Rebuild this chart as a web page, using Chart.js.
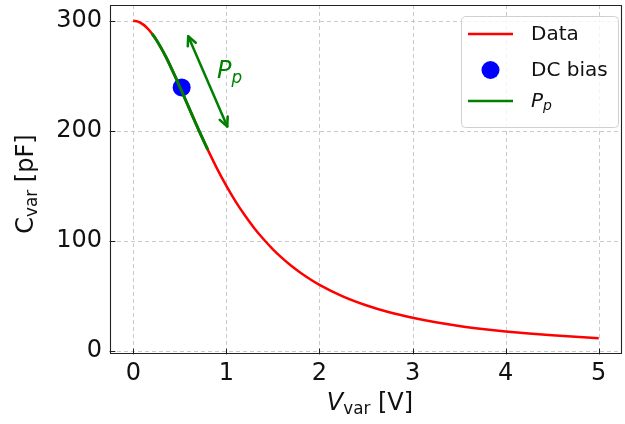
<!DOCTYPE html>
<html><head><meta charset="utf-8">
<script src="https://cdn.jsdelivr.net/npm/chart.js@4.4.0/dist/chart.umd.min.js"></script>
<style>html,body{margin:0;padding:0;background:#fff}</style>
</head><body>
<canvas id="c" width="625" height="424"></canvas>
<script>
// Data
const voltage = [0,0.05,0.1,0.15,0.2,0.25,0.3,0.35,0.4,0.45,0.5,0.6,0.7,0.8,0.9,1.0,1.1,1.2,1.3,1.4,1.5,1.6,1.7,1.8,1.9,2.0,2.25,2.5,2.75,3.0,3.25,3.5,3.75,4.0,4.25,4.5,4.75,5.0];
const capacitance = [300,299.3,297,293.4,288.5,282.4,275.2,267.3,258.6,249.4,240,220.6,201.3,182.9,165.7,150,135.7,123,111.5,101.4,92.3,84.3,77.1,70.8,65.1,60,49.5,41.4,35,30,25.9,22.6,19.9,17.6,15.7,14.1,12.7,11.5];
const ppVoltage = [0.2,0.25,0.3,0.35,0.4,0.45,0.5,0.6,0.7,0.8];
const ppCapacitance = [288.5,282.4,275.2,267.3,258.6,249.4,240,220.6,201.3,182.9];
const dcBiasV = [0.52];
const dcBiasC = [239.5];
const arrowStart = [0.59, 286];
const arrowEnd = [1.01, 204];
const ppLabelPos = [0.9, 248];
const xTicks = [0,1,2,3,4,5];
const yTicks = [0,100,200,300];
const legendLabels = ['Data','DC bias','P_p'];

const FONT = 'DejaVu Sans';
const toXY = (xs, ys) => xs.map((x,i)=>({x, y: ys[i]}));

function drawRich(ctx, segs, x, y, size, align) {
  const sizes = segs.map(s => s.sub ? size*0.7 : size);
  let total = 0;
  segs.forEach((s,i)=>{ ctx.font = (s.it?'italic ':'') + sizes[i] + 'px "' + FONT + '"'; total += ctx.measureText(s.t).width; });
  let cx = align === 'center' ? x - total/2 : x;
  segs.forEach((s,i)=>{
    ctx.font = (s.it?'italic ':'') + sizes[i] + 'px "' + FONT + '"';
    ctx.textAlign = 'left';
    ctx.fillText(s.t, cx, y + (s.sub ? size*0.22 : 0));
    cx += ctx.measureText(s.t).width;
  });
}

const noPad = s => { s.paddingTop = 0; s.paddingBottom = 0; s.paddingLeft = 0; s.paddingRight = 0; };

const custom = {
  id: 'custom',
  beforeDatasetsDraw(chart) {
    const {ctx, chartArea: a, scales: {x, y}} = chart;
    ctx.save();
    ctx.strokeStyle = 'rgba(176,176,176,0.75)';
    ctx.lineWidth = 0.9;
    ctx.setLineDash([4,3]);
    xTicks.forEach(v => { const px = Math.round(x.getPixelForValue(v))+0.5; ctx.beginPath(); ctx.moveTo(px,a.top); ctx.lineTo(px,a.bottom); ctx.stroke(); });
    yTicks.forEach(v => { const py = Math.round(y.getPixelForValue(v))+0.5; ctx.beginPath(); ctx.moveTo(a.left,py); ctx.lineTo(a.right,py); ctx.stroke(); });
    ctx.restore();
  },
  afterDatasetsDraw(chart) {
    const {ctx, chartArea: a, scales: {x, y}} = chart;
    ctx.save();
    const x1 = x.getPixelForValue(arrowStart[0]), y1 = y.getPixelForValue(arrowStart[1]);
    const x2 = x.getPixelForValue(arrowEnd[0]), y2 = y.getPixelForValue(arrowEnd[1]);
    ctx.strokeStyle = 'green'; ctx.lineWidth = 2.5; ctx.lineCap = 'round'; ctx.lineJoin='round';
    ctx.beginPath(); ctx.moveTo(x1,y1); ctx.lineTo(x2,y2); ctx.stroke();
    const ang = Math.atan2(y2-y1, x2-x1), hl = 10, ha = 0.45;
    [[x2,y2,ang],[x1,y1,ang+Math.PI]].forEach(([px,py,an])=>{
      ctx.beginPath();
      ctx.moveTo(px - hl*Math.cos(an-ha), py - hl*Math.sin(an-ha));
      ctx.lineTo(px, py);
      ctx.lineTo(px - hl*Math.cos(an+ha), py - hl*Math.sin(an+ha));
      ctx.stroke();
    });
    ctx.fillStyle = 'green';
    ctx.textBaseline = 'alphabetic';
    drawRich(ctx, [{t:'P',it:true},{t:'p',it:true,sub:true}], x.getPixelForValue(ppLabelPos[0]), y.getPixelForValue(ppLabelPos[1]), 24, 'left');

    ctx.setLineDash([]);
    ctx.strokeStyle = '#222'; ctx.lineWidth = 1.1;
    ctx.strokeRect(a.left+0.5, a.top+0.5, a.right-a.left-1, a.bottom-a.top-1);
    ctx.strokeStyle = '#222'; ctx.lineWidth = 1;
    xTicks.forEach(v => { const px = Math.round(x.getPixelForValue(v))+0.5; ctx.beginPath(); ctx.moveTo(px,a.bottom); ctx.lineTo(px,a.bottom-5); ctx.stroke(); });
    yTicks.forEach(v => { const py = Math.round(y.getPixelForValue(v))+0.5; ctx.beginPath(); ctx.moveTo(a.left,py); ctx.lineTo(a.left+5,py); ctx.stroke(); });

    ctx.fillStyle = '#111';
    ctx.font = '24px "' + FONT + '"';
    ctx.textAlign = 'center'; ctx.textBaseline = 'middle';
    xTicks.forEach(v => ctx.fillText(String(v), x.getPixelForValue(v), a.bottom + 20));

    ctx.textBaseline = 'middle';
    drawRich(ctx, [{t:'V',it:true},{t:'var',sub:true},{t:' [V]'}], 370, 404, 24, 'center');
    ctx.save();
    ctx.translate(27, 184);
    ctx.rotate(-Math.PI/2);
    drawRich(ctx, [{t:'C'},{t:'var',sub:true},{t:' [pF]'}], 0, 0, 24, 'center');
    ctx.restore();

    const lx = 461, ly = 16, lw = 157, lh = 111;
    ctx.fillStyle = 'rgba(255,255,255,0.8)';
    ctx.strokeStyle = '#d0d0d0'; ctx.lineWidth = 1;
    ctx.beginPath(); ctx.roundRect(lx+0.5, ly+0.5, lw, lh, 4); ctx.fill(); ctx.stroke();
    const rows = [34, 70, 101];
    ctx.lineWidth = 2.5; ctx.lineCap = 'butt';
    ctx.strokeStyle = 'red'; ctx.beginPath(); ctx.moveTo(468, rows[0]); ctx.lineTo(513, rows[0]); ctx.stroke();
    ctx.fillStyle = 'blue'; ctx.beginPath(); ctx.arc(490.5, rows[1], 9, 0, Math.PI*2); ctx.fill();
    ctx.strokeStyle = 'green'; ctx.beginPath(); ctx.moveTo(468, rows[2]); ctx.lineTo(513, rows[2]); ctx.stroke();
    ctx.fillStyle = '#111';
    ctx.textBaseline = 'middle';
    drawRich(ctx, [{t:legendLabels[0]}], 531, rows[0]+1, 20, 'left');
    drawRich(ctx, [{t:legendLabels[1]}], 531, rows[1]+1, 20, 'left');
    drawRich(ctx, [{t:'P',it:true},{t:'p',it:true,sub:true}], 531, rows[2]+1, 20, 'left');
    ctx.restore();
  }
};

new Chart(document.getElementById('c'), {
  type: 'line',
  data: {
    datasets: [
      { label: 'P_p', data: toXY(ppVoltage, ppCapacitance), borderColor: 'green', borderWidth: 3, pointRadius: 0, cubicInterpolationMode: 'monotone', order: 0 },
      { label: 'DC bias', data: toXY(dcBiasV, dcBiasC), showLine: false, pointRadius: 9, pointBackgroundColor: 'blue', pointBorderColor: 'blue', pointBorderWidth: 0, order: 1 },
      { label: 'Data', data: toXY(voltage, capacitance), borderColor: 'red', borderWidth: 2.5, pointRadius: 0, cubicInterpolationMode: 'monotone', order: 2 }
    ]
  },
  options: {
    responsive: false,
    animation: false,
    devicePixelRatio: 1,
    layout: { autoPadding: false, padding: { left: 0, right: 3, top: 5, bottom: 0 } },
    plugins: { legend: { display: false }, tooltip: { enabled: false } },
    scales: {
      x: {
        type: 'linear', min: -0.25, max: 5.25,
        afterBuildTicks: s => { s.ticks = xTicks.map(v => ({value: v})); },
        afterFit: s => { s.height = 70; noPad(s); },
        grid: { display: false, drawTicks: false },
        border: { display: false },
        ticks: { display: false }
      },
      y: {
        type: 'linear', min: -2.9, max: 314.4,
        afterBuildTicks: s => { s.ticks = yTicks.map(v => ({value: v})); },
        afterFit: s => { s.width = 110; noPad(s); },
        grid: { display: false, drawTicks: false },
        border: { display: false },
        ticks: { color: '#111', font: { family: FONT, size: 24 }, padding: 8 }
      }
    }
  },
  plugins: [custom]
});
</script>
</body></html>
